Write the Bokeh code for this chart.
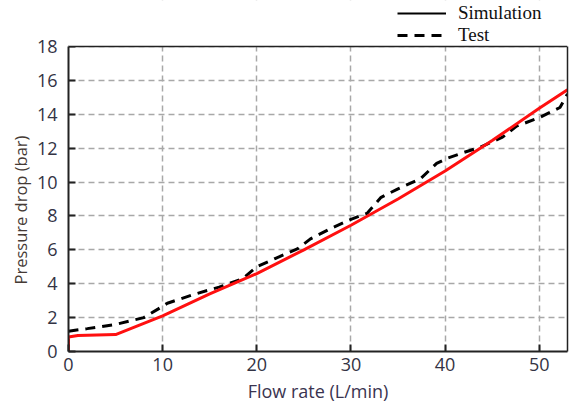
from bokeh.plotting import figure
from bokeh.models import (Range1d, FixedTicker, Legend, LegendItem, LinearAxis,
                          Span, BoxAnnotation, Title)
from bokeh.embed import file_html
from bokeh.resources import INLINE

# Flow rate (L/min) vs pressure drop (bar)
sim_flow = [0, 0, 1, 5, 10, 15, 20, 25, 30, 35, 40, 45, 50, 53]
sim_dp = [0, 0.85, 0.95, 1.0, 2.1, 3.4, 4.6, 6.0, 7.45, 9.0, 10.65, 12.45, 14.35, 15.45]

test_flow = [0, 2, 5, 8, 9.5, 10.5, 13.5, 16, 18.5, 20, 22, 24.3, 25.7, 28, 30, 31.7, 33.2,
             35, 37.4, 39.1, 40.2, 42, 43.7, 46.1, 47.6, 50, 52.2, 53]
test_dp = [1.2, 1.35, 1.6, 2.0, 2.5, 2.85, 3.4, 3.8, 4.3, 5.0, 5.5, 6.05, 6.65, 7.3, 7.8, 8.15, 9.1,
           9.6, 10.2, 11.1, 11.4, 11.75, 12.05, 12.65, 13.3, 13.8, 14.4, 15.2]

x_ticks = [0, 10, 20, 30, 40, 50]
y_ticks = [0, 2, 4, 6, 8, 10, 12, 14, 16, 18]

X_MAX, Y_MAX = 53, 18
# the frame reaches the top of the canvas so the legend can sit above the plot box;
# the box itself ends at Y_MAX (305 px of a 351 px tall frame)
Y_VIEW = Y_MAX * 351 / 305

TICK_FONT = "Open Sans"
INK = "#222222"
NAN = float("nan")

p = figure(width=571, height=411, output_backend="svg", toolbar_location=None, title=None,
           x_range=Range1d(0, X_MAX), y_range=Range1d(0, Y_VIEW),
           min_border_left=68, min_border_right=4, min_border_top=0, min_border_bottom=60)
p.background_fill_color = "white"
p.border_fill_color = "white"
p.outline_line_color = None

# grid
for g in (p.xgrid, p.ygrid):
    g.grid_line_color = "#a8a8a8"
    g.grid_line_dash = "6 4"
    g.grid_line_width = 1.5
p.xgrid.ticker = FixedTicker(ticks=x_ticks)
p.ygrid.ticker = FixedTicker(ticks=y_ticks)

# axes
p.xaxis.ticker = FixedTicker(ticks=x_ticks)
p.yaxis.ticker = FixedTicker(ticks=y_ticks)
p.yaxis.bounds = (0, Y_MAX)
for ax in (p.xaxis[0], p.yaxis[0]):
    ax.axis_line_color = INK
    ax.axis_line_width = 2
    ax.major_tick_in = 7
    ax.major_tick_out = 0
    ax.major_tick_line_color = INK
    ax.major_tick_line_width = 2
    ax.minor_tick_line_color = None
    ax.major_label_text_font = TICK_FONT
    ax.major_label_text_font_size = "18px"
    ax.major_label_text_color = "#333344"

p.xaxis.axis_label = "Flow rate (L/min)"
p.xaxis.axis_label_text_font = TICK_FONT
p.xaxis.axis_label_text_font_size = "18px"
p.xaxis.axis_label_text_font_style = "normal"
p.xaxis.axis_label_text_color = "#3a3450"
p.xaxis.major_label_standoff = 6
p.xaxis.axis_label_standoff = 5
p.yaxis.major_label_standoff = 11

# y title, centred on the plot box rather than the whole frame
p.add_layout(Title(text="Pressure drop (bar)", align="left", offset=67, standoff=4,
                   text_font=TICK_FONT, text_font_size="16.5px", text_font_style="normal",
                   text_color="#453a35"), "left")

# right edge of the plot box
right_edge = LinearAxis(ticker=FixedTicker(ticks=[]), bounds=(0, Y_MAX),
                        axis_line_color=INK, axis_line_width=1.5,
                        major_tick_line_color=None, minor_tick_line_color=None)
p.add_layout(right_edge, "right")

# data
test_line = p.line(test_flow, test_dp, line_color="black", line_width=3, line_dash="10 7")
p.line(sim_flow, sim_dp, line_color="#ff1010", line_width=3)

# blank out the strip above the plot box, then close the box on top
p.add_layout(BoxAnnotation(bottom=Y_MAX, fill_color="white", fill_alpha=1.0, line_color=None))
p.add_layout(Span(location=Y_MAX, dimension="width", line_color=INK, line_width=1.5))

# black key for the simulation entry (no visible points)
key_sim = p.line(x=[NAN], y=[NAN], line_color="black", line_width=2)

legend = Legend(items=[LegendItem(label="Simulation", renderers=[key_sim]),
                       LegendItem(label="Test", renderers=[test_line])],
                location=(329, 305), orientation="vertical",
                background_fill_alpha=0, border_line_color=None,
                padding=0, margin=0, spacing=0,
                glyph_width=49, glyph_height=22, label_height=22,
                label_standoff=12,
                label_text_font="Liberation Serif", label_text_font_size="19px",
                label_text_color="#111111")
p.add_layout(legend, "center")

open("out.html", "w").write(file_html(p, INLINE))
